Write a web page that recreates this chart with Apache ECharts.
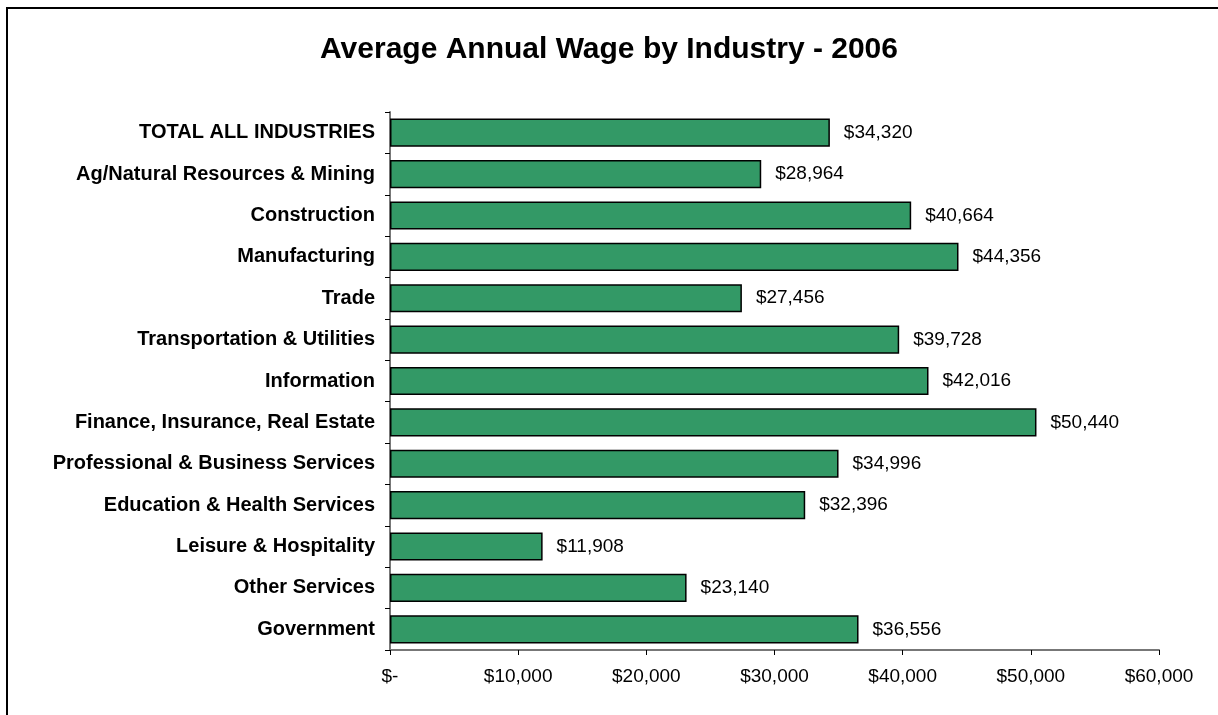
<!DOCTYPE html>
<html>
<head>
<meta charset="utf-8">
<style>
  html, body { margin: 0; padding: 0; background: #fff; }
  #chart { width: 1218px; height: 715px; }
</style>
<script src="https://cdn.jsdelivr.net/npm/echarts@6/dist/echarts.min.js"></script>
</head>
<body>
<div id="chart"></div>
<script>
// Industries, listed top to bottom
const industries = [
  'TOTAL ALL INDUSTRIES',
  'Ag/Natural Resources & Mining',
  'Construction',
  'Manufacturing',
  'Trade',
  'Transportation & Utilities',
  'Information',
  'Finance, Insurance, Real Estate',
  'Professional & Business Services',
  'Education & Health Services',
  'Leisure & Hospitality',
  'Other Services',
  'Government'
];

// Average annual wage, dollars
const wages = [34320, 28964, 40664, 44356, 27456, 39728, 42016, 50440, 34996, 32396, 11908, 23140, 36556];

// Value axis ticks
const axisMin = 0;
const axisMax = 60000;
const axisStep = 10000;

const fmtMoney = v => v === 0 ? '$-' : '$' + v.toLocaleString('en-US');
const FONT = 'Liberation Sans, Arial, sans-serif';

const chart = echarts.init(document.getElementById('chart'), null, { renderer: 'canvas' });

chart.setOption({
  animation: false,
  backgroundColor: '#ffffff',
  title: {
    text: 'Average Annual Wage by Industry - 2006',
    left: 'center',
    top: 30,
    textStyle: {
      fontFamily: FONT,
      fontSize: 30,
      fontWeight: 'bold',
      color: '#000'
    }
  },
  graphic: [{
    type: 'rect',
    shape: { x: 7, y: 8, width: 1300, height: 800 },
    style: { fill: 'none', stroke: '#000', lineWidth: 2 },
    silent: true
  }],
  grid: { left: 390, right: 59, top: 112, bottom: 65, containLabel: false },
  xAxis: {
    type: 'value',
    min: axisMin,
    max: axisMax,
    interval: axisStep,
    splitLine: { show: false },
    axisLine: { show: true, lineStyle: { color: '#777', width: 2 } },
    axisTick: { show: true, length: 5, lineStyle: { color: '#000', width: 1 } },
    axisLabel: {
      formatter: fmtMoney,
      margin: 17,
      fontFamily: FONT,
      fontSize: 19,
      color: '#000'
    }
  },
  yAxis: {
    type: 'category',
    data: industries,
    inverse: true,
    axisLine: { show: true, lineStyle: { color: '#777', width: 2 } },
    axisTick: { show: true, length: 5, alignWithLabel: false, lineStyle: { color: '#000', width: 1 } },
    axisLabel: {
      margin: 15,
      fontFamily: FONT,
      fontSize: 20,
      fontWeight: 'bold',
      color: '#000'
    }
  },
  series: [{
    type: 'bar',
    data: wages,
    barCategoryGap: '32%',
    itemStyle: { color: '#339966', borderColor: '#000', borderWidth: 1.5 },
    label: {
      show: true,
      position: 'right',
      distance: 14,
      formatter: p => fmtMoney(p.value),
      fontFamily: FONT,
      fontSize: 19,
      color: '#000'
    }
  }]
});
</script>
</body>
</html>
